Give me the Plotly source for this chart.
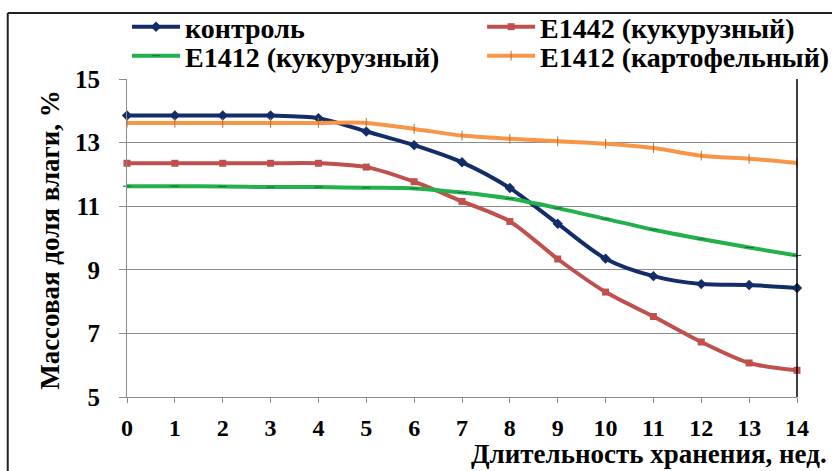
import plotly.graph_objects as go

weeks = list(range(15))

control = [13.85, 13.85, 13.85, 13.85, 13.77, 13.35, 12.92, 12.38, 11.57,
           10.45, 9.35, 8.8, 8.55, 8.52, 8.43]
e1442_corn = [12.35, 12.35, 12.35, 12.35, 12.35, 12.23, 11.77, 11.15, 10.52,
              9.34, 8.3, 7.53, 6.73, 6.07, 5.84]
e1412_corn = [11.63, 11.63, 11.62, 11.6, 11.6, 11.58, 11.56, 11.43, 11.24,
              10.94, 10.6, 10.26, 9.97, 9.7, 9.45]
e1412_potato = [13.62, 13.62, 13.62, 13.62, 13.62, 13.62, 13.43, 13.22, 13.12,
                13.04, 12.96, 12.83, 12.59, 12.49, 12.36]

series_names = ["контроль", "E1442 (кукурузный)", "E1412 (кукурузный)",
                "E1412 (картофельный)"]
y_ticks = [5, 7, 9, 11, 13, 15]

FONT = "Liberation Serif"


def bold(size):
    return dict(family=FONT, size=size, color="black", weight="bold")


fig = go.Figure()

# (values, line colour, marker, legend id)
styles = [
    (control, "#132d68", dict(symbol="diamond", size=8, color="#132d68"), "legend"),
    (e1442_corn, "#c0504d", dict(symbol="square", size=7, color="#c0504d"), "legend2"),
    (e1412_corn, "#22b14c", dict(symbol="line-ew", size=6,
                                 line=dict(color="#1d6b3a", width=1)), "legend3"),
    (e1412_potato, "#f79646", dict(symbol="line-ns", size=7,
                                   line=dict(color="#b86f2e", width=1)), "legend4"),
]

for name, (vals, color, marker, leg) in zip(series_names, styles):
    fig.add_trace(go.Scatter(
        x=weeks, y=vals, name=name, mode="lines+markers",
        line=dict(color=color, width=4, shape="spline", smoothing=0.8),
        marker=marker, cliponaxis=False, legend=leg,
    ))


def legend_at(x, y):
    return dict(orientation="v", x=x, y=y, xanchor="left", yanchor="middle",
                itemwidth=48, bgcolor="rgba(0,0,0,0)", font=bold(28))


fig.update_layout(
    template="none",
    width=832, height=471,
    margin=dict(l=127, r=35, t=79, b=74, autoexpand=False),
    paper_bgcolor="white", plot_bgcolor="white",
    showlegend=True,
    legend=legend_at(0.0, 1.1635),
    legend2=legend_at(0.53, 1.1635),
    legend3=legend_at(0.0, 1.0723),
    legend4=legend_at(0.53, 1.0723),
    xaxis=dict(
        range=[0, 14], tickmode="array", tickvals=weeks,
        ticktext=[str(w) for w in weeks],
        showgrid=False, showline=True, linecolor="#8a8a8a", linewidth=1,
        ticks="outside", ticklen=5, tickcolor="#8a8a8a",
        ticklabelstandoff=4, zeroline=False, tickfont=bold(24),
    ),
    yaxis=dict(
        range=[5, 15], tickmode="array", tickvals=y_ticks,
        showgrid=True, gridcolor="#8a8a8a", gridwidth=1,
        showline=True, linecolor="#8a8a8a", linewidth=1,
        ticks="outside", ticklen=7, tickcolor="#8a8a8a",
        ticklabelstandoff=14, zeroline=False, tickfont=bold(25),
    ),
)

# right edge of the plotting area
fig.add_shape(type="line", xref="paper", yref="paper", x0=1, x1=1, y0=0, y1=1,
              line=dict(color="black", width=1.5))
# outer chart frame (top and left edges)
fig.add_shape(type="line", xref="paper", yref="paper",
              x0=-0.178, x1=1.1, y0=1.2075, y1=1.2075,
              line=dict(color="#222222", width=2))
fig.add_shape(type="line", xref="paper", yref="paper",
              x0=-0.178, x1=-0.178, y0=1.2075, y1=-0.3,
              line=dict(color="#222222", width=2))

fig.add_annotation(
    text="Массовая доля влаги, %", xref="paper", yref="paper",
    x=-0.115, y=0.494, textangle=-90, showarrow=False,
    xanchor="center", yanchor="middle", font=bold(27),
)
fig.add_annotation(
    text="Длительность хранения, нед.", xref="paper", yref="paper",
    x=1.048, y=-0.18, showarrow=False, xanchor="right", yanchor="middle",
    font=bold(27),
)

fig.write_html("out.html")
